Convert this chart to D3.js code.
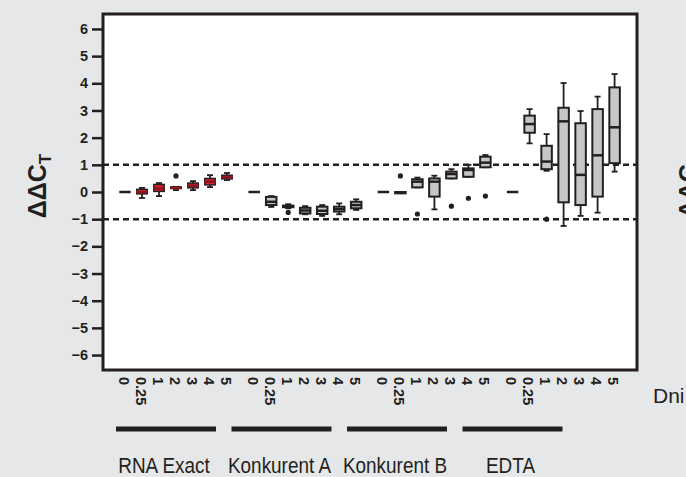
<!DOCTYPE html>
<html>
<head>
<meta charset="utf-8">
<script src="https://cdn.jsdelivr.net/npm/d3@7"></script>
<style>
  body { margin: 0; background: #e6e7e8; }
  svg { display: block; font-family: 'Liberation Sans', Arial, sans-serif; }
</style>
</head>
<body>
<div class="chart"></div>
<script>
// data: [min, q1, median, q3, max] per day
var groups = ['RNA Exact', 'Konkurent A', 'Konkurent B', 'EDTA'];
var days = ['0', '0.25', '1', '2', '3', '4', '5'];
var yTicks = [-6, -5, -4, -3, -2, -1, 0, 1, 2, 3, 4, 5, 6];

var rnaExact = [
    [0, 0, 0, 0, 0],
    [-0.22, -0.07, 0.0, 0.1, 0.15],
    [-0.15, 0.02, 0.12, 0.28, 0.33],
    [0.07, 0.13, 0.15, 0.19, 0.19],
    [0.07, 0.15, 0.23, 0.33, 0.4],
    [0.18, 0.26, 0.38, 0.5, 0.62],
    [0.44, 0.48, 0.55, 0.62, 0.7]
];
var konkurentA = [
    [0, 0, 0, 0, 0],
    [-0.55, -0.48, -0.36, -0.18, -0.15],
    [-0.6, -0.56, -0.53, -0.5, -0.45],
    [-0.82, -0.79, -0.68, -0.58, -0.52],
    [-0.88, -0.81, -0.69, -0.54, -0.48],
    [-0.82, -0.72, -0.63, -0.54, -0.42],
    [-0.66, -0.6, -0.48, -0.36, -0.27]
];
var konkurentB = [
    [0, 0, 0, 0, 0],
    [-0.05, -0.05, -0.02, 0, 0],
    [0.17, 0.17, 0.38, 0.47, 0.53],
    [-0.64, -0.17, 0.38, 0.5, 0.6],
    [0.5, 0.5, 0.66, 0.75, 0.84],
    [0.56, 0.56, 0.81, 0.87, 1.0],
    [0.91, 0.91, 1.08, 1.3, 1.36]
];
var edta = [
    [0, 0, 0, 0, 0],
    [1.79, 2.18, 2.5, 2.81, 3.05],
    [0.78, 0.84, 1.12, 1.7, 2.13],
    [-1.25, -0.38, 2.6, 3.1, 4.01],
    [-0.88, -0.48, 0.63, 2.53, 2.98],
    [-0.76, -0.17, 1.35, 3.05, 3.51],
    [0.75, 1.06, 2.38, 3.85, 4.34]
];
// outliers: [group, day, value]
var outliers = [
    [0, 3, 0.59],
    [1, 2, -0.75],
    [2, 1, 0.59],
    [2, 2, -0.81],
    [2, 4, -0.52],
    [2, 5, -0.23],
    [2, 6, -0.15],
    [3, 2, -1.0]
];
var limits = [-1, 1];
var groupFill = ['#cf1f30', '#c6c7c9', '#c6c7c9', '#c6c7c9'];

var allStats = [rnaExact, konkurentA, konkurentB, edta];

// margins
var margin = { top: 14, right: 49, bottom: 107, left: 103 },
    width = 686 - margin.left - margin.right,
    height = 477 - margin.top - margin.bottom;

var groupStep = 7.6; // slots per group incl. gap
function pos(g, i) { return g * groupStep + i; }

var xScale = d3.scaleLinear()
    .domain([-1.294, -1.294 + width / 17])
    .range([0, width]);

var yScale = d3.scaleLinear()
    .domain([-6.55, 6.55])
    .range([height, 0]);

var boxes = [];
allStats.forEach(function (stats, g) {
    stats.forEach(function (s, i) {
        boxes.push({ g: g, i: i, min: s[0], q1: s[1], med: s[2], q3: s[3], max: s[4] });
    });
});

var root = d3.select('.chart').append('svg')
    .attr('width', 686)
    .attr('height', 477);

var svg = root.append('g')
    .attr('transform', 'translate(' + margin.left + ',' + margin.top + ')');

// white plot area
svg.append('rect')
    .attr('width', width)
    .attr('height', height)
    .attr('fill', '#fff');

// y axis
var yAxis = svg.append('g')
    .call(d3.axisLeft(yScale).tickValues(yTicks).tickSize(11).tickPadding(4));
yAxis.select('.domain').remove();
yAxis.selectAll('line').attr('stroke', '#231f20').attr('stroke-width', 2.5);
yAxis.selectAll('text')
    .style('font-size', '14.5px')
    .style('font-weight', 'bold')
    .attr('fill', '#231f20');

// x axis (day labels, rotated)
var xVals = [];
groups.forEach(function (g, gi) {
    days.forEach(function (d, di) { xVals.push(pos(gi, di)); });
});
var xAxis = svg.append('g')
    .attr('transform', 'translate(0,' + height + ')')
    .call(d3.axisBottom(xScale).tickValues(xVals).tickSize(0)
        .tickFormat(function (v, k) { return days[k % days.length]; }));
xAxis.select('.domain').remove();
xAxis.selectAll('text')
    .attr('transform', 'rotate(90)')
    .attr('x', 7)
    .attr('y', 0)
    .attr('dy', '0.48em')
    .style('text-anchor', 'start')
    .style('font-size', '14.5px')
    .style('font-weight', 'bold')
    .attr('fill', '#231f20');

// dashed limit lines
svg.selectAll('.limit')
    .data(limits)
    .enter().append('line')
    .attr('x1', 0)
    .attr('x2', width)
    .attr('y1', function (d) { return yScale(d); })
    .attr('y2', function (d) { return yScale(d); })
    .attr('stroke', '#231f20')
    .attr('stroke-width', 2.5)
    .attr('stroke-dasharray', '6,4');

// box plots
var bw = 10.5, cw = 5;
var box = svg.selectAll('.box')
    .data(boxes)
    .enter().append('g')
    .attr('transform', function (d) { return 'translate(' + xScale(pos(d.g, d.i)) + ',0)'; });

box.append('line')
    .attr('y1', function (d) { return yScale(d.max); })
    .attr('y2', function (d) { return yScale(d.min); })
    .attr('stroke', '#231f20')
    .attr('stroke-width', 1.8);

box.selectAll('.cap')
    .data(function (d) { return d.max > d.q3 || d.min < d.q1 ? [d.max, d.min] : []; })
    .enter().append('line')
    .attr('x1', -cw / 2 - 0.5)
    .attr('x2', cw / 2 + 0.5)
    .attr('y1', function (v) { return yScale(v); })
    .attr('y2', function (v) { return yScale(v); })
    .attr('stroke', '#231f20')
    .attr('stroke-width', 1.8);

box.filter(function (d) { return d.q3 > d.q1; })
    .append('rect')
    .attr('x', -bw / 2)
    .attr('width', bw)
    .attr('y', function (d) { return yScale(d.q3); })
    .attr('height', function (d) { return yScale(d.q1) - yScale(d.q3); })
    .attr('fill', function (d) { return groupFill[d.g]; })
    .attr('stroke', '#231f20')
    .attr('stroke-width', function (d) { return d.g === 0 ? 1.4 : 2; });

box.append('line')
    .attr('x1', -bw / 2 - 0.5)
    .attr('x2', bw / 2 + 0.5)
    .attr('y1', function (d) { return yScale(d.med); })
    .attr('y2', function (d) { return yScale(d.med); })
    .attr('stroke', function (d) { return d.g === 0 && d.i > 0 ? '#8e1420' : '#231f20'; })
    .attr('stroke-width', 2.5);

// outlier dots
svg.selectAll('.dot')
    .data(outliers)
    .enter().append('circle')
    .attr('cx', function (d) { return xScale(pos(d[0], d[1])); })
    .attr('cy', function (d) { return yScale(d[2]); })
    .attr('r', 2.6)
    .attr('fill', '#231f20');

// frame
svg.append('rect')
    .attr('width', width)
    .attr('height', height)
    .attr('fill', 'none')
    .attr('stroke', '#231f20')
    .attr('stroke-width', 3);

// y label
function yLabel(x) {
    var t = root.append('text')
        .attr('transform', 'translate(' + x + ',186) rotate(-90)')
        .style('text-anchor', 'middle')
        .style('font-size', '25px')
        .style('font-weight', 'bold')
        .attr('fill', '#231f20');
    t.append('tspan').text('ΔΔC');
    t.append('tspan').attr('dy', 5).style('font-size', '17px').text('T');
}
yLabel(46);
yLabel(697);

// group bars and names
var barScale = d3.scaleLinear().domain([0, 1]).range([116, 231.5]);
root.selectAll('.gbar')
    .data(groups)
    .enter().append('rect')
    .attr('x', function (d, i) { return barScale(i); })
    .attr('y', 426.5)
    .attr('width', 100)
    .attr('height', 5)
    .attr('fill', '#231f20');

root.selectAll('.gname')
    .data(groups)
    .enter().append('text')
    .attr('transform', function (d, i) {
        return 'translate(' + (barScale(i) + 48) + ',473) scale(0.88,1)';
    })
    .style('text-anchor', 'middle')
    .style('font-size', '21.5px')
    .attr('fill', '#231f20')
    .text(function (d) { return d; });

root.append('text')
    .attr('x', 653)
    .attr('y', 403)
    .style('font-size', '21px')
    .attr('fill', '#231f20')
    .text('Dni');
</script>
</body>
</html>
